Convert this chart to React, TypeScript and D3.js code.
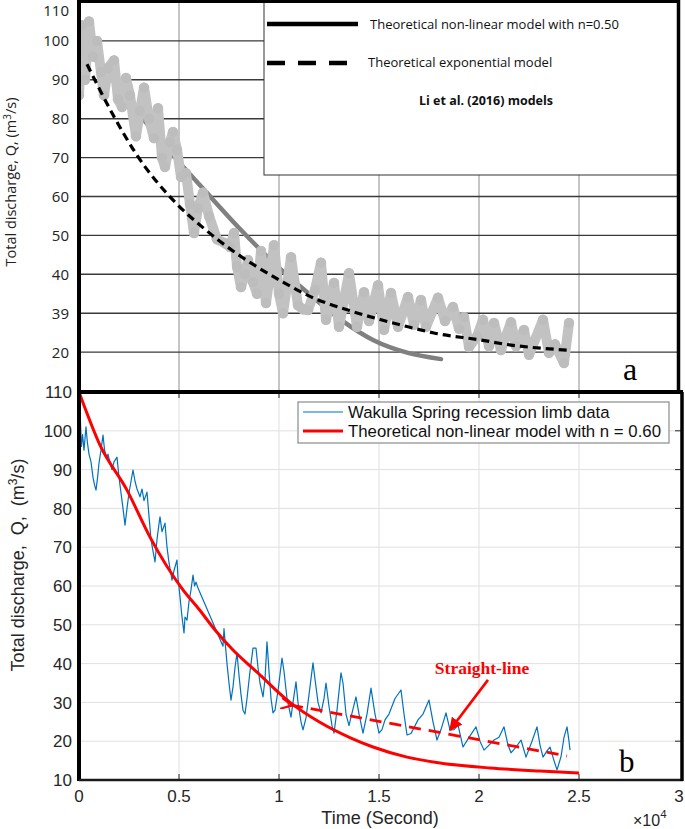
import React from "react";
import * as d3 from "d3";

const W = 685;
const H = 829;

// ---------- shared axis data ----------
const xTickValues = [0, 5000, 10000, 15000, 20000, 25000, 30000];
const xTickLabels = ["0", "0.5", "1", "1.5", "2", "2.5", "3"];

// ---------- panel (a) data ----------
const topYTickValues = [110, 100, 90, 80, 70, 60, 50, 40, 30, 20];
const topYTickLabels = ["110", "100", "90", "80", "70", "60", "50", "40", "39", "20"];

const topObsT = [0, 150, 300, 500, 700, 900, 1100, 1250, 1450, 1750, 1950, 2150, 2350, 2550, 2850, 3050, 3250, 3500, 3750, 3950, 4150, 4300, 4550, 4700, 4900, 5100, 5350, 5550, 5750, 5950, 6200, 6500, 6900, 7300, 7550, 7750, 7900, 8100, 8300, 8450, 8700, 8900, 9100, 9350, 9750, 10000, 10200, 10600, 10950, 11200, 11450, 11800, 12100, 12350, 12750, 13000, 13500, 13900, 14250, 14500, 14950, 15250, 15600, 15950, 16450, 16750, 17100, 17350, 17950, 18300, 18700, 19000, 19250, 19500, 19900, 20200, 20500, 20750, 21100, 21600, 21850, 22250, 22500, 23200, 23500, 23800, 24250, 24500];
const topObsQ = [86, 104, 90, 105, 96, 100, 92, 86, 93, 95, 85, 83, 90.5, 86, 75.5, 82, 88, 80, 75, 82.7, 70, 67.6, 74, 76.6, 72, 65, 66, 58, 50.6, 57, 61, 55, 49, 48, 47, 50.6, 42, 36.7, 40, 43.7, 38, 35, 46, 32.6, 47.5, 35, 30, 44.4, 32, 31, 30.8, 36, 43, 28.3, 37.8, 26.5, 40.3, 26.5, 35.4, 28, 37.2, 25.7, 35.2, 26.5, 34.2, 27, 33.4, 26.5, 34, 28, 31.6, 26, 29, 21.3, 24, 28.3, 21.5, 27.5, 20.5, 27.7, 21.5, 25.7, 19.3, 28.3, 19.8, 22, 17.2, 27.5];

const topNonlinT = [0, 1350, 3350, 4350, 6350, 8100, 9750, 11450, 13100, 14750, 16450, 18100];
const topNonlinQ = [100, 92, 79, 72.7, 61.2, 51.4, 42.9, 35.2, 28.3, 23, 19.8, 18.2];

const topExpT = [400, 1700, 2850, 4850, 6200, 7700, 8750, 10200, 11600, 13450, 15100, 16450, 17750, 20100, 21600, 23100, 24450];
const topExpQ = [94, 81, 71, 58.3, 52, 46, 42.4, 38, 34.2, 30.8, 28.3, 26.5, 24.9, 23.1, 21.8, 21, 20.5];

// ---------- panel (b) data ----------
const botYTickValues = [10, 20, 30, 40, 50, 60, 70, 80, 90, 100, 110];

const botObsT = [0, 60, 120, 180, 250, 350, 420, 500, 600, 700, 780, 850, 930, 1000, 1100, 1200, 1280, 1380, 1450, 1550, 1650, 1750, 1900, 2000, 2100, 2200, 2300, 2400, 2500, 2600, 2700, 2800, 2900, 3050, 3150, 3250, 3400, 3500, 3600, 3700, 3800, 3900, 4000, 4050, 4150, 4300, 4400, 4500, 4650, 4750, 4900, 4950, 5050, 5150, 5250, 5300, 5400, 5500, 5600, 5700, 5780, 5850, 5950, 7200, 7250, 7400, 7500, 7600, 7700, 7800, 7900, 8000, 8100, 8200, 8300, 8400, 8550, 8700, 8850, 8950, 9050, 9200, 9300, 9400, 9500, 9600, 9700, 9800, 9950, 10150, 10250, 10400, 10600, 10700, 10850, 10950, 11100, 11200, 11350, 11500, 11700, 11800, 11950, 12100, 12250, 12350, 12500, 12650, 12750, 12900, 13100, 13200, 13350, 13500, 13600, 13850, 14000, 14200, 14400, 14600, 14800, 15000, 15150, 15300, 15500, 15800, 16100, 16250, 16400, 16600, 16950, 17200, 17500, 17700, 17900, 18100, 18350, 18550, 18750, 18950, 19200, 19500, 19850, 20050, 20250, 20500, 20750, 21000, 21250, 21450, 21600, 21850, 22100, 22350, 22650, 22900, 23050, 23200, 23400, 23550, 23750, 23900, 24100, 24250, 24400, 24500, 24550];
const botObsQ = [108, 104, 96, 99, 95, 101, 97, 94, 92, 88, 86, 84.7, 88, 91.7, 95, 98.9, 95, 93, 94, 91.7, 90, 92, 93.2, 88, 84, 80, 75.7, 80, 84, 87, 89.9, 87, 85, 83, 85, 82, 84.2, 78, 72, 69, 66.2, 72, 76, 77.8, 74, 76.2, 70, 66, 61.5, 64, 66.7, 62, 57.2, 52, 47.9, 52, 51.2, 56, 59, 62.8, 60, 61, 59.5, 44.5, 49, 40, 35, 30.6, 34, 39, 42.7, 37, 32, 28, 27, 31, 38, 44, 44, 39, 35, 31.4, 36, 45.6, 38, 31, 27.3, 28, 33, 41.4, 38, 31, 26.2, 30, 35.3, 30, 25, 22.9, 26, 32, 40.2, 36, 30, 27.3, 31, 35, 29, 24, 22.1, 28, 37.6, 35, 27, 24, 26.2, 31.4, 27, 22.1, 27, 33.7, 27, 22.1, 23, 25.5, 27, 31, 33.2, 27, 21.6, 22, 25.5, 27, 30.6, 25, 20.3, 23, 27.3, 22.9, 23, 24.2, 18.5, 21, 23.7, 20, 17.7, 19, 20.3, 21, 23.7, 19, 17, 18.5, 20.3, 15.9, 20, 23.7, 19, 15.9, 17.5, 18.5, 15, 12.6, 16, 21, 23.7, 20, 17.7];

const botModelT = [0, 1050, 2400, 3550, 5200, 6000, 6750, 7700, 8900, 10550, 12000, 13600, 14700, 16400, 18050, 20550, 23050, 25000];
const botModelQ = [110, 96.3, 84.7, 72.6, 59, 54, 49, 43.5, 37.8, 30, 25, 20.8, 18.5, 15.9, 14.4, 13.1, 12.3, 11.8];

const straightT = [10600, 24400];
const straightQ = [29.3, 16.2];

const arrowT = [20450, 18550];
const arrowQ = [35.8, 22.9];

// ---------- layout ----------
const X0 = 79;
const X1 = 679;
const topY0 = 391;
const topY1 = 2;
const botY0 = 780;
const botY1 = 392;

const x = d3.scaleLinear().domain([0, 30000]).range([X0, X1]);
const yTop = d3.scaleLinear().domain([10, 110]).range([topY0, topY1]);
const yBot = d3.scaleLinear().domain([10, 110]).range([botY0, botY1]);

const zip = (a: number[], b: number[]) => a.map((v, i) => [v, b[i]] as [number, number]);

export default function App() {
  const lineTopLin = d3.line<[number, number]>().x((d) => x(d[0])).y((d) => yTop(d[1]));
  const lineTopSmooth = d3
    .line<[number, number]>()
    .x((d) => x(d[0]))
    .y((d) => yTop(d[1]))
    .curve(d3.curveMonotoneX);
  const lineBotLin = d3.line<[number, number]>().x((d) => x(d[0])).y((d) => yBot(d[1]));
  const lineBotSmooth = d3
    .line<[number, number]>()
    .x((d) => x(d[0]))
    .y((d) => yBot(d[1]))
    .curve(d3.curveMonotoneX);

  const topObs = zip(topObsT, topObsQ);
  const botObs = zip(botObsT, botObsQ);

  const sansTop = "'Open Sans', 'DejaVu Sans', sans-serif";
  const sansBot = "'Liberation Sans', Arial, sans-serif";
  const serif = "'Liberation Serif', 'Times New Roman', serif";

  const ax0 = x(arrowT[0]);
  const ay0 = yBot(arrowQ[0]);
  const ax1 = x(arrowT[1]);
  const ay1 = yBot(arrowQ[1]);

  return (
    <svg
      width={W}
      height={H}
      style={{ position: "absolute", left: 0, top: 0, background: "#fff" }}
    >
      <defs>
        <clipPath id="clipTop">
          <rect x={X0} y={topY1} width={X1 - X0} height={topY0 - topY1} />
        </clipPath>
        <clipPath id="clipBot">
          <rect x={X0} y={botY1} width={X1 - X0 + 2} height={botY0 - botY1} />
        </clipPath>
        <marker id="arrRed" viewBox="0 0 10 10" refX="9" refY="5" markerWidth="5" markerHeight="5" orient="auto">
          <path d="M0,0 L10,5 L0,10 z" fill="#ff0000" />
        </marker>
        <marker id="arrRedStart" viewBox="0 0 10 10" refX="1" refY="5" markerWidth="4" markerHeight="4" orient="auto-start-reverse">
          <path d="M0,5 L10,0 M0,5 L10,10" stroke="#ff0000" strokeWidth="2" fill="none" />
        </marker>
      </defs>

      <rect x={0} y={0} width={W} height={H} fill="#fff" />

      {/* ================= PANEL (a) ================= */}
      {xTickValues.slice(1, 6).map((t) => (
        <line key={"tv" + t} x1={x(t)} x2={x(t)} y1={topY1} y2={topY0} stroke="#8c8c8c" strokeWidth={1} />
      ))}
      {topYTickValues.slice(1).map((v) => (
        <line key={"th" + v} x1={X0} x2={X1} y1={yTop(v)} y2={yTop(v)} stroke="#3a3a3a" strokeWidth={1.4} />
      ))}

      <g clipPath="url(#clipTop)">
        <path d={lineTopSmooth(zip(topNonlinT, topNonlinQ)) || ""} fill="none" stroke="#808080" strokeWidth={4.5} strokeLinecap="round" />
        <path d={lineTopLin(topObs) || ""} fill="none" stroke="#c2c2c2" strokeWidth={10} strokeLinejoin="round" strokeLinecap="round" />
        {topObs.map((d, i) => (
          <circle key={"td" + i} cx={x(d[0])} cy={yTop(d[1])} r={5.2} fill="#bdbdbd" />
        ))}
        <path d={lineTopSmooth(zip(topExpT, topExpQ)) || ""} fill="none" stroke="#000" strokeWidth={3.2} strokeDasharray="8,5" />
      </g>

      {/* top legend */}
      <rect x={264} y={2} width={414} height={173} fill="#fff" stroke="#333" strokeWidth={1} />
      <line x1={267} x2={358} y1={24} y2={24} stroke="#000" strokeWidth={4.5} />
      <text x={370} y={29} fontFamily={sansTop} fontSize={13} fill="#111">
        Theoretical non-linear model with n=0.50
      </text>
      <line x1={267} x2={350} y1={63} y2={63} stroke="#000" strokeWidth={4.5} strokeDasharray="18,13" />
      <text x={368} y={67} fontFamily={sansTop} fontSize={13} fill="#111">
        Theoretical exponential model
      </text>
      <text x={486} y={105} fontFamily={sansTop} fontSize={12.5} fontWeight="bold" textAnchor="middle" fill="#111">
        Li et al. (2016) models
      </text>

      {/* top frame */}
      <line x1={X0} x2={X0} y1={0} y2={topY0} stroke="#000" strokeWidth={4} />
      <line x1={X0 - 2} x2={680} y1={1.5} y2={1.5} stroke="#000" strokeWidth={3} />
      <line x1={678.5} x2={678.5} y1={0} y2={topY0} stroke="#000" strokeWidth={3.5} />

      {/* top tick labels */}
      {topYTickValues.map((v, i) => (
        <text key={"tl" + v} x={69} y={Math.max(yTop(v), 11)} dy="0.36em" textAnchor="end" fontFamily={sansTop} fontSize={15} fill="#222">
          {topYTickLabels[i]}
        </text>
      ))}
      <text
        transform={`translate(16,182) rotate(-90)`}
        textAnchor="middle"
        fontFamily={sansTop}
        fontSize={14.5}
        fill="#222"
      >
        Total discharge, Q, (m<tspan dy="-5" fontSize={10}>3</tspan>
        <tspan dy="5">/s)</tspan>
      </text>

      <text x={623} y={380} fontFamily={serif} fontSize={32} fill="#000">
        a
      </text>

      {/* ================= PANEL (b) ================= */}
      {xTickValues.slice(1, 6).map((t) => (
        <line key={"bv" + t} x1={x(t)} x2={x(t)} y1={botY1} y2={botY0} stroke="#e0e0e0" strokeWidth={1} />
      ))}
      {botYTickValues.slice(1, 10).map((v) => (
        <line key={"bh" + v} x1={X0} x2={X1} y1={yBot(v)} y2={yBot(v)} stroke="#e0e0e0" strokeWidth={1} />
      ))}

      <g clipPath="url(#clipBot)">
        <path d={lineBotLin(botObs) || ""} fill="none" stroke="#0072BD" strokeWidth={1.2} strokeLinejoin="round" />
        <path d={lineBotSmooth(zip(botModelT, botModelQ)) || ""} fill="none" stroke="#ff0000" strokeWidth={3} />
        <path
          d={lineBotLin(zip(straightT, straightQ)) || ""}
          fill="none"
          stroke="#ff0000"
          strokeWidth={2.8}
          strokeDasharray="12,8"
          markerStart="url(#arrRedStart)"
        />
      </g>

      {/* annotation arrow */}
      <line x1={ax0} y1={ay0} x2={ax1} y2={ay1} stroke="#ff0000" strokeWidth={2.6} markerEnd="url(#arrRed)" />
      <text x={x(20150)} y={yBot(37.2)} textAnchor="middle" fontFamily={serif} fontWeight="bold" fontSize={17.5} fill="#ff0000">
        Straight-line
      </text>

      {/* ticks (MATLAB style, inward) */}
      {xTickValues.slice(1, 6).map((t) => (
        <g key={"bt" + t}>
          <line x1={x(t)} x2={x(t)} y1={botY0} y2={botY0 - 6} stroke="#262626" strokeWidth={1} />
          <line x1={x(t)} x2={x(t)} y1={botY1} y2={botY1 + 6} stroke="#262626" strokeWidth={1} />
        </g>
      ))}
      {botYTickValues.slice(1, 10).map((v) => (
        <line key={"br" + v} x1={681} x2={675} y1={yBot(v)} y2={yBot(v)} stroke="#262626" strokeWidth={1} />
      ))}

      {/* bottom frame */}
      <line x1={X0 - 2} x2={683} y1={botY1} y2={botY1} stroke="#000" strokeWidth={4} />
      <line x1={X0} x2={X0} y1={botY1} y2={botY0 + 1} stroke="#000" strokeWidth={4} />
      <line x1={X0} x2={683} y1={botY0} y2={botY0} stroke="#1a1a1a" strokeWidth={2.5} />
      <line x1={682} x2={682} y1={botY1} y2={botY0 + 1} stroke="#000" strokeWidth={3.5} />

      {/* bottom legend */}
      <rect x={298} y={402} width={371} height={41} fill="#fff" stroke="#8a8a8a" strokeWidth={1.2} />
      <line x1={303} x2={343} y1={412} y2={412} stroke="#0072BD" strokeWidth={1.2} />
      <text x={348} y={418} fontFamily={sansBot} fontSize={16.8} fill="#111">
        Wakulla Spring recession limb data
      </text>
      <line x1={303} x2={343} y1={431} y2={431} stroke="#ff0000" strokeWidth={3} />
      <text x={348} y={437} fontFamily={sansBot} fontSize={16.8} fill="#111">
        Theoretical non-linear model with n = 0.60
      </text>

      {/* bottom tick labels */}
      {botYTickValues.map((v) => (
        <text key={"bl" + v} x={72} y={yBot(v)} dy="0.36em" textAnchor="end" fontFamily={sansBot} fontSize={17} fill="#262626">
          {String(v)}
        </text>
      ))}
      {xTickValues.map((t, i) => (
        <text key={"xl" + t} x={x(t)} y={802} textAnchor="middle" fontFamily={sansBot} fontSize={17} fill="#262626">
          {xTickLabels[i]}
        </text>
      ))}
      <text x={380} y={824} textAnchor="middle" fontFamily={sansBot} fontSize={18} fill="#262626">
        Time (Second)
      </text>
      <text x={633} y={826} fontFamily={sansBot} fontSize={16} fill="#262626">
        ×10<tspan dy="-8" fontSize={11.5}>4</tspan>
      </text>
      <text
        transform={`translate(24,565) rotate(-90)`}
        textAnchor="middle"
        fontFamily={sansBot}
        fontSize={18}
        fill="#262626"
        style={{ whiteSpace: "pre" }}
      >
        {"Total discharge,  Q,  (m"}
        <tspan dy="-7" fontSize={12}>3</tspan>
        <tspan dy="7">/s)</tspan>
      </text>

      <text x={619} y={772} fontFamily={serif} fontSize={31} fill="#000">
        b
      </text>
    </svg>
  );
}
